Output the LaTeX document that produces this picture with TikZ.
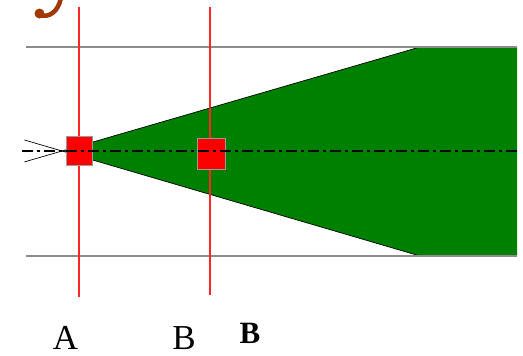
\documentclass[tikz,border=0pt]{standalone}
\usepackage{fontspec}
\setmainfont{Liberation Serif}
\usetikzlibrary{positioning,calc}
\definecolor{beamgreen}{RGB}{0,128,0}
\definecolor{markred}{RGB}{255,0,0}
\definecolor{swash}{RGB}{160,56,0}

\begin{document}
\begin{tikzpicture}[
      x=1pt, y=-1pt,
      guide/.style={draw=black!45, line width=1.6pt},
      plane/.style={draw=markred!85!white, line width=1.1pt},
      edge/.style={draw=black, line width=0.7pt},
      axis/.style={draw=black, line width=2.4pt,
        dash pattern=on 11pt off 4pt on 3pt off 4pt},
      marker/.style={fill=markred, draw=black!40, line width=0.3pt,
        inner sep=0pt},
      lab/.style={font=\fontsize{35}{35}\selectfont, anchor=base, inner sep=0pt},
    ]
    \useasboundingbox (0,0) rectangle (523,356);

    % end points of the guide lines
    \coordinate (topL) at (26,47);
    \coordinate (topR) at (517,47);
    \coordinate (botL) at (26,256);
    \coordinate (botR) at (517,256);
    \coordinate (apex) at (62,151);
    \coordinate (wedgeT) at (420,47);
    \coordinate (wedgeB) at (420,256);
    \coordinate (axisL) at (22,151);
    \coordinate (axisR) at (517,151);

    % green beam
    \fill[beamgreen] (apex) -- (wedgeT) -- (topR) -- (botR) -- (wedgeB) -- cycle;
    \draw[edge] ($(apex)!-0.105!(wedgeT)$) -- (wedgeT);
    \draw[edge] ($(apex)!-0.105!(wedgeB)$) -- (wedgeB);

    \draw[guide] (topL) -- (topR);
    \draw[guide] (botL) -- (botR);

    % the two planes
    \coordinate (planeAt) at (79,7);
    \coordinate (planeAb) at (79,297);
    \coordinate (planeBt) at (210,7);
    \coordinate (planeBb) at (210,295);
    \draw[plane] (planeAt) -- (planeAb);
    \draw[plane] (planeBt) -- (planeBb);
    \node[marker, minimum width=26pt, minimum height=29pt] (markA) at (79,150.5) {};
    \node[marker, minimum width=28pt, minimum height=31pt] (markB) at (211,153.5) {};

    \draw[axis] (axisL) -- (axisR);

    % swash of a cut-off letter
    \draw[swash, line width=4.5pt, line cap=round]
      (61,-2) .. controls (58,12) and (49,18) .. (40,15);
    \fill[swash] (39.5,13.5) circle (5pt);

    \node[lab] (labA) at (65.5,349) {A};
    \node[lab] (labB) at (184,349) {B};
    \node[lab, font=\fontsize{31}{31}\selectfont\bfseries] (labBb) at (250,343) {B};
  \end{tikzpicture}
\end{document}
